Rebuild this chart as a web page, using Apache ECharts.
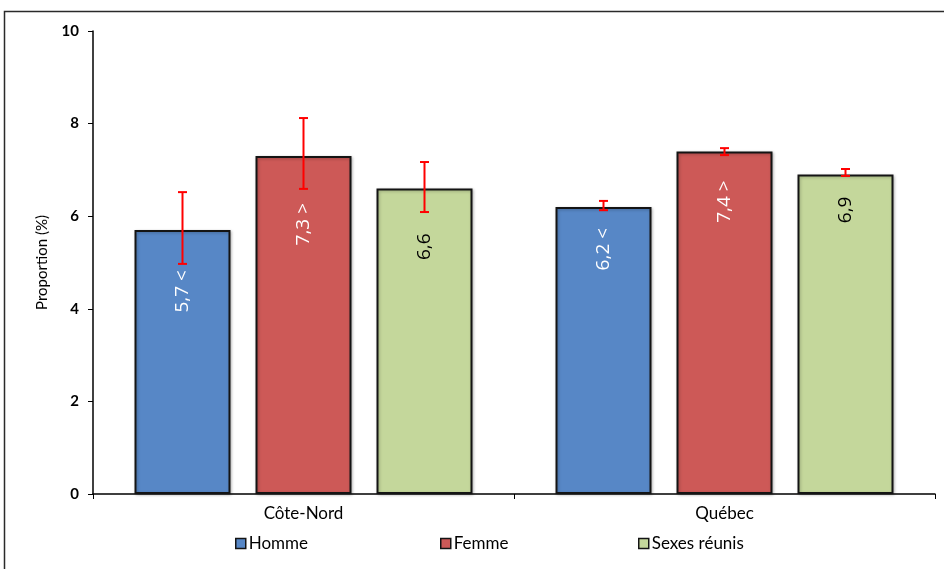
<!DOCTYPE html>
<html>
<head>
<meta charset="utf-8">
<script src="https://cdn.jsdelivr.net/npm/echarts@6/dist/echarts.min.js"></script>
<style>
html,body{margin:0;padding:0;background:#fff;}
#chart{width:944px;height:569px;}
</style>
</head>
<body>
<div id="chart"></div>
<script>
// ---- Data ----
const categories = ['Côte-Nord', 'Québec'];
const seriesNames = ['Homme', 'Femme', 'Sexes réunis'];
const hommeValues = [5.7, 6.2];
const femmeValues = [7.3, 7.4];
const sexesValues = [6.6, 6.9];
const hommeLow = [4.97, 6.13];
const hommeHigh = [6.52, 6.33];
const femmeLow = [6.59, 7.32];
const femmeHigh = [8.12, 7.47];
const sexesLow = [6.09, 6.87];
const sexesHigh = [7.17, 7.02];
const hommeMarks = ['<', '<'];
const femmeMarks = ['>', '>'];
const sexesMarks = ['', ''];
const yTicks = [0, 2, 4, 6, 8, 10];

// ---- Styles ----
const colors = ['#5787C6', '#CD5957', '#C4D79B'];
const labelColors = ['#ffffff', '#ffffff', '#000000'];
const labelDist = [[40, 21], [47, 29], [45, 22]];
const legendLefts = [235, 440, 638];
const barW = 96, barGapPx = 25;
const FONT = 'Lato, "Open Sans", sans-serif';

const values = [hommeValues, femmeValues, sexesValues];
const lows = [hommeLow, femmeLow, sexesLow];
const highs = [hommeHigh, femmeHigh, sexesHigh];
const marks = [hommeMarks, femmeMarks, sexesMarks];

const fmt = v => v.toFixed(1).replace('.', ',');

const chart = echarts.init(document.getElementById('chart'));

const barSeries = seriesNames.map((name, s) => ({
  name: name,
  type: 'bar',
  barWidth: barW,
  barGap: (barGapPx / barW * 100) + '%',
  itemStyle: {
    color: colors[s], borderColor: '#141414', borderWidth: 2,
    shadowColor: 'rgba(0,0,0,0.25)', shadowBlur: 3, shadowOffsetX: 1, shadowOffsetY: 1
  },
  data: values[s].map((v, i) => ({
    value: v,
    label: {
      show: true,
      position: 'insideTop',
      rotate: 90,
      align: 'right',
      verticalAlign: 'middle',
      distance: labelDist[s][i],
      color: labelColors[s],
      fontFamily: '"Open Sans", sans-serif',
      fontSize: 19,
      formatter: () => fmt(v) + (marks[s][i] ? ' ' + marks[s][i] : '')
    }
  })),
  z: 2
}));

const errSeries = seriesNames.map((name, s) => ({
  type: 'custom',
  name: name + ' IC',
  z: 5,
  silent: true,
  renderItem: function (params, api) {
    const i = api.value(0);
    const lo = api.coord([i, api.value(1)]);
    const hi = api.coord([i, api.value(2)]);
    const x = lo[0] + (s - 1) * (barW + barGapPx);
    const cap = 4.5;
    const st = { stroke: '#FF0000', lineWidth: 2 };
    return {
      type: 'group',
      children: [
        { type: 'line', shape: { x1: x, y1: lo[1], x2: x, y2: hi[1] }, style: st },
        { type: 'line', shape: { x1: x - cap, y1: lo[1], x2: x + cap, y2: lo[1] }, style: st },
        { type: 'line', shape: { x1: x - cap, y1: hi[1], x2: x + cap, y2: hi[1] }, style: st }
      ]
    };
  },
  data: categories.map((c, i) => [i, lows[s][i], highs[s][i]])
}));

const legends = seriesNames.map((name, s) => ({
  data: [name],
  left: legendLefts[s],
  top: 535,
  padding: 0,
  itemWidth: 10,
  itemHeight: 10,
  itemGap: 0,
  icon: 'rect',
  selectedMode: false,
  itemStyle: { borderColor: '#141414', borderWidth: 1.5 },
  textStyle: { fontFamily: FONT, fontSize: 17, color: '#000', padding: [0, 0, 0, -2] }
}));

chart.setOption({
  animation: false,
  backgroundColor: '#ffffff',
  graphic: [{
    type: 'rect',
    shape: { x: 4.5, y: 11.5, width: 1000, height: 700 },
    style: { fill: 'none', stroke: '#2a2a2a', lineWidth: 1.5 },
    z: -1
  }],
  grid: { left: 93, right: 9, top: 31, bottom: 75 },
  legend: legends,
  xAxis: {
    type: 'category',
    data: categories,
    axisLine: { lineStyle: { color: '#000', width: 1.5 } },
    axisTick: { show: true, length: 5, lineStyle: { color: '#000' } },
    axisLabel: { fontFamily: FONT, fontSize: 17, color: '#000', margin: 11 },
    splitLine: { show: false }
  },
  yAxis: {
    type: 'value',
    min: 0, max: 10, interval: 2,
    name: 'Proportion (%)',
    nameLocation: 'middle',
    nameGap: 43,
    nameRotate: 90,
    nameTextStyle: { fontFamily: FONT, fontSize: 15, color: '#000' },
    axisLine: { show: true, lineStyle: { color: '#000', width: 1.5 } },
    axisTick: { show: true, length: 5, inside: false, lineStyle: { color: '#000' } },
    axisLabel: {
      fontFamily: FONT, fontSize: 15, fontWeight: 'bold', color: '#000', margin: 14,
      formatter: v => yTicks.includes(v) ? String(v) : ''
    },
    splitLine: { show: false }
  },
  series: [...barSeries, ...errSeries]
});
</script>
</body>
</html>
